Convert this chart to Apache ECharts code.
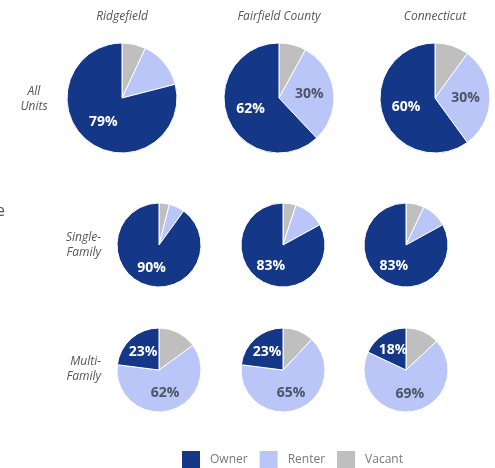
<!DOCTYPE html>
<html>
<head>
<meta charset="utf-8">
<script src="https://cdn.jsdelivr.net/npm/echarts@6/dist/echarts.min.js"></script>
<style>
  html, body { margin: 0; padding: 0; background: #fff; }
  #main { width: 495px; height: 468px; }
</style>
</head>
<body>
<div id="main"></div>
<script>
  // columns and rows of the grid
  var places = ['Ridgefield', 'Fairfield County', 'Connecticut'];
  var unitTypes = ['All Units', 'Single-Family', 'Multi-Family'];
  var tenure = ['Vacant', 'Renter', 'Owner'];

  // shares in %, one array per row, order = places
  var ownerShare = [[79, 62, 60], [90, 83, 83], [23, 23, 18]];
  var renterShare = [[14, 30, 30], [6, 12, 10], [62, 65, 69]];
  var vacantShare = [[7, 8, 10], [4, 5, 7], [15, 12, 13]];

  // which slices carry a label
  var showRenter = [[false, true, true], [false, false, false], [true, true, true]];

  var colors = { Owner: '#143887', Renter: '#b9c6f7', Vacant: '#bfbfbf' };

  var colX = [[122, 279, 435], [159, 283, 406], [159, 283, 406]];
  var rowY = [98, 245, 370];
  var radius = [55, 42, 42];

  var chart = echarts.init(document.getElementById('main'));

  var series = [];
  for (var r = 0; r < 3; r++) {
    for (var c = 0; c < 3; c++) {
      series.push({
        type: 'pie',
        center: [colX[r][c], rowY[r]],
        radius: [0, radius[r]],
        startAngle: 90,
        clockwise: true,
        animation: false,
        silent: true,
        itemStyle: { borderColor: '#fff', borderWidth: 1 },
        label: {
          position: 'inside',
          formatter: '{c}%',
          fontFamily: 'Open Sans',
          fontWeight: 'bold',
          fontSize: 14
        },
        labelLine: { show: false },
        data: [
          { name: 'Vacant', value: vacantShare[r][c], itemStyle: { color: colors.Vacant }, label: { show: false } },
          { name: 'Renter', value: renterShare[r][c], itemStyle: { color: colors.Renter },
            label: { show: showRenter[r][c], color: '#4f5466' } },
          { name: 'Owner', value: ownerShare[r][c], itemStyle: { color: colors.Owner },
            label: { show: true, color: '#fff' } }
        ]
      });
    }
  }

  var hdrStyle = { fontFamily: 'Open Sans', fontStyle: 'italic', fontSize: 12, fill: '#555', lineHeight: 15 };
  var texts = [];
  places.forEach(function (p, i) {
    texts.push({ type: 'text', x: colX[0][i], y: 9,
      style: Object.assign({ text: p, align: 'center' }, hdrStyle) });
  });
  texts.push({ type: 'text', x: 34, y: 84, style: Object.assign({ text: 'All\nUnits', align: 'center' }, hdrStyle) });
  texts.push({ type: 'text', x: 101, y: 230, style: Object.assign({ text: 'Single-\nFamily', align: 'right' }, hdrStyle) });
  texts.push({ type: 'text', x: 101, y: 354, style: Object.assign({ text: 'Multi-\nFamily', align: 'right' }, hdrStyle) });
  texts.push({ type: 'text', x: -4, y: 203, style: { text: 'e', fontFamily: 'Open Sans', fontSize: 16, fill: '#555' } });

  chart.setOption({
    backgroundColor: '#fff',
    animation: false,
    legend: {
      data: ['Owner', 'Renter', 'Vacant'],
      left: 180,
      top: 449,
      padding: 0,
      icon: 'rect',
      itemWidth: 20,
      itemHeight: 19,
      itemGap: 10,
      textStyle: { fontFamily: 'Open Sans', fontSize: 12, color: '#777', padding: [0, 0, 0, 4] }
    },
    graphic: texts,
    series: series
  });
</script>
</body>
</html>
